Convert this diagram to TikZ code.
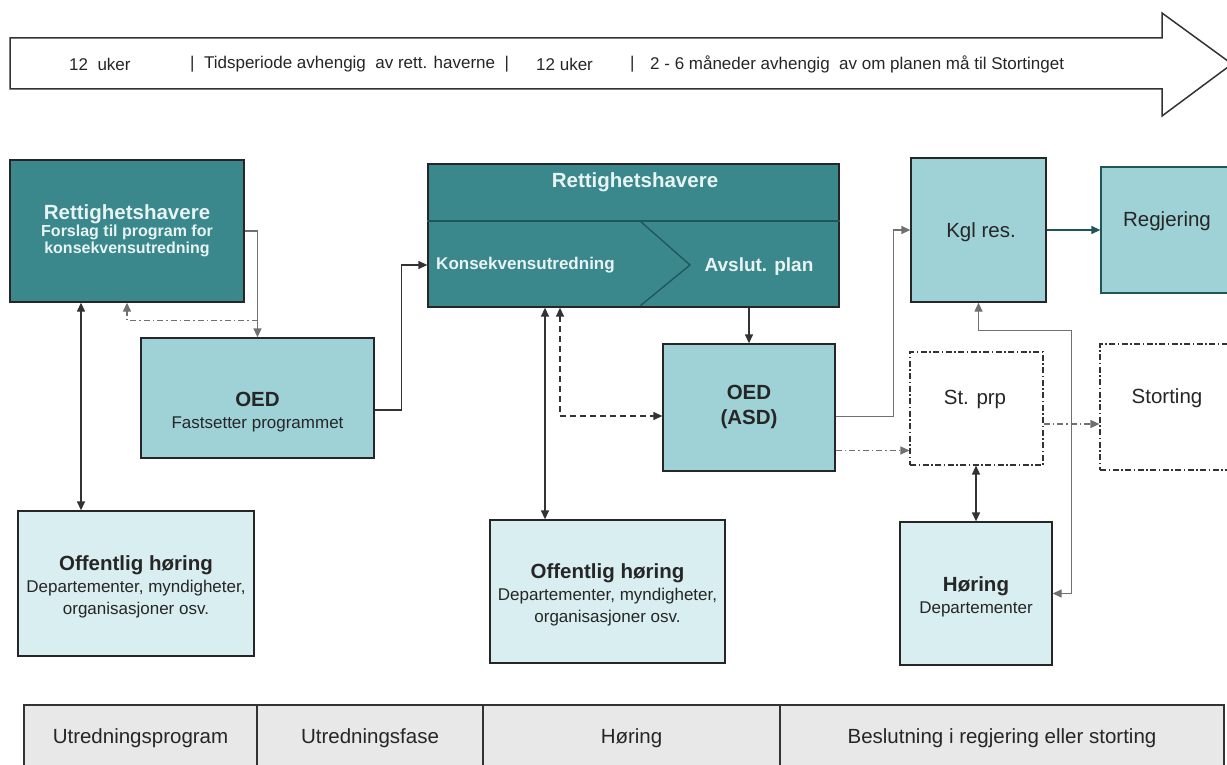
\documentclass[tikz,border=0pt]{standalone}
\usepackage{fontspec}
\setmainfont{Liberation Sans}
\usetikzlibrary{arrows.meta,calc}
\definecolor{dteal}{HTML}{3A878C}
\definecolor{dtealline}{HTML}{1F5659}
\definecolor{mteal}{HTML}{9ED2D6}
\definecolor{lteal}{HTML}{D9EEF0}
\definecolor{tgray}{HTML}{E8E8E8}
\definecolor{lnc}{HTML}{333333}
\definecolor{lgc}{HTML}{707070}
\definecolor{dtext}{HTML}{E8F4F4}
\definecolor{btxt}{HTML}{262626}
\newcommand\ttl{\fontsize{20.5}{23}\selectfont\bfseries}
\newcommand\sbt{\fontsize{17}{22}\selectfont}
\begin{document}
\begin{tikzpicture}[x=1pt,y=-1pt,
 box/.style={rectangle, draw=black!85, line width=1.3pt, inner sep=0pt},
 dbox/.style={box, fill=dteal},
 mbox/.style={box, fill=mteal},
 lbox/.style={box, fill=lteal},
 ddbox/.style={rectangle, inner sep=0pt, draw=black!80, line width=1.1pt, dash pattern=on 6pt off 2.5pt on 1.5pt off 2.5pt, fill=white},
 cell/.style={rectangle, draw=black!80, line width=1.3pt, fill=tgray, inner sep=0pt, text=btxt, font=\fontsize{20.5}{23}\selectfont},
 txt/.style={inner sep=0pt, align=center, text=btxt, font=\sbt},
 wtxt/.style={inner sep=0pt, align=center, text=dtext},
 atxt/.style={inner sep=0pt, anchor=west, text=btxt, font=\fontsize{17}{20}\selectfont},
 arr/.style={-{Triangle[length=9pt,width=8pt]}},
 arrs/.style={{Triangle[length=9pt,width=8pt]}-{Triangle[length=9pt,width=8pt]}},
 conn/.style={draw=lnc, line width=1.3pt},
 dashdot/.style={dash pattern=on 6pt off 3pt on 1.5pt off 3pt},
 longdash/.style={dash pattern=on 6pt off 4pt},
]
\useasboundingbox (0,0) rectangle (1227,765);

% timeline arrow
\draw[draw=black!80, line width=1.5pt, fill=white, line join=miter]
  (10,38) -- (1162,38) -- (1162,13) -- (1232,64) -- (1162,116) -- (1162,89) -- (10,89) -- cycle;
\node[atxt] (a1) at (69,64) {12\ \ uker};
\node[atxt] (a2) at (190,64) {|\ \ Tidsperiode avhengig\ \ av rett. haverne\ \ |};
\node[atxt] (a3) at (536,64) {12 uker};
\node[atxt] (a4) at (630,64) {|};
\node[atxt] (a5) at (650,64) {2 - 6 måneder avhengig\ \ av om planen må til Stortinget};

% boxes
\node[dbox, minimum width=234pt, minimum height=142pt] (r1) at (127,231) {};
\node[wtxt, font=\fontsize{16}{17}\selectfont] (r1t) at (127,231) {{\ttl Rettighetshavere}\\
  {\bfseries Forslag til program for}\\
  {\bfseries konsekvensutredning}};

\node[mbox, minimum width=233pt, minimum height=120pt] (oed1) at (257.5,398) {};
\node[txt] (oed1t) at (257.5,412) {{\ttl OED}\\{Fastsetter programmet}};

\node[lbox, minimum width=236pt, minimum height=145pt] (off1) at (136,583.5) {};
\node[txt] (off1t) at (136,587) {{\ttl Offentlig høring}\\Departementer, myndigheter,\\organisasjoner osv.};

\node[dbox, minimum width=411pt, minimum height=143pt] (r2) at (633.5,235.5) {};
\draw[draw=dtealline, line width=1.6pt] (r2.west |- 0,221) -- (r2.east |- 0,221);
\draw[draw=dtealline, line width=1.3pt] (640,221) -- (690,265) -- (640,306);
\node[wtxt] (r2t) at (635,182) {\ttl Rettighetshavere};
\node[wtxt] (r2k) at (525.5,265) {\fontsize{17}{20}\selectfont\bfseries Konsekvensutredning};
\node[wtxt] (r2a) at (759,267) {\fontsize{19}{22}\selectfont\bfseries Avslut. plan};

\node[mbox, minimum width=172pt, minimum height=127pt] (oed2) at (749,407.5) {};
\node[txt] (oed2t) at (749,406.5) {{\ttl OED}\\[3pt]{\ttl (ASD)}};

\node[lbox, minimum width=235pt, minimum height=143pt] (off2) at (607.5,591.5) {};
\node[txt] (off2t) at (607.5,595) {{\ttl Offentlig høring}\\Departementer, myndigheter,\\organisasjoner osv.};

\node[mbox, minimum width=135pt, minimum height=144pt] (kgl) at (978.5,230) {};
\node[txt, font=\fontsize{20.5}{23}\selectfont] (kglt) at (981,232) {Kgl res.};

\node[box, draw=dtealline, fill=mteal, minimum width=131pt, minimum height=126pt] (reg) at (1166.5,230) {};
\node[txt, font=\fontsize{20.5}{23}\selectfont] (regt) at (1167,221) {Regjering};

\node[ddbox, minimum width=133pt, minimum height=113pt] (stprp) at (976.5,408.5) {};
\node[txt, font=\fontsize{20.5}{23}\selectfont] (stprpt) at (975,399) {St. prp};

\node[ddbox, minimum width=132pt, minimum height=126pt] (sting) at (1166,407) {};
\node[txt, font=\fontsize{20.5}{23}\selectfont] (stingt) at (1167,398) {Storting};

\node[lbox, minimum width=152pt, minimum height=143pt] (hor) at (976,593.5) {};
\node[txt] (hort) at (976,596.5) {{\ttl Høring}\\Departementer};

% bottom table
\node[cell, minimum width=233pt, minimum height=66pt] (c1) at (140.5,738) {Utredningsprogram};
\node[cell, minimum width=226pt, minimum height=66pt] (c2) at (370,738) {Utredningsfase};
\node[cell, minimum width=297pt, minimum height=66pt] (c3) at (631.5,738) {Høring};
\node[cell, minimum width=444pt, minimum height=66pt] (c4) at (1002,738) {Beslutning i regjering eller storting};

% connectors
\draw[conn, draw=lgc, arr] (r1.east) -| (oed1.north);
\draw[conn, draw=lgc, dashdot, arr] ($(oed1.north)+(0,-17)$) -| (r1.south);
\draw[conn, arrs] (r1.south -| 81,0) -- (off1.north -| 81,0);
\draw[conn, arr] ($(oed1.east)+(0,12)$) -| ($(r2.west)+(-26,29.5)$) -- ($(r2.west)+(0,29.5)$);

\draw[conn, arrs] (r2.south -| 545,0) -- (off2.north -| 545,0);
\draw[conn, longdash, arrs] (r2.south -| 560,0) |- (oed2.west |- 0,416);
\draw[conn, arr] (r2.south -| oed2.north) -- (oed2.north);

\draw[conn, draw=lgc, arr] ($(oed2.east)+(0,9)$) -| ($(kgl.west)+(-17,0)$) -- (kgl.west);
\draw[conn, draw=lgc, dashdot, arr] ($(oed2.east)+(0,43)$) coordinate (p1) -- (p1 -| stprp.west);
\draw[conn, draw=dtealline, arr] (kgl.east) -- (reg.west);
\draw[conn, draw=lgc, dashdot, arr] ($(stprp.east)+(0,15.5)$) coordinate (p2) -- (p2 -| sting.west);
\draw[conn, arrs] (stprp.south -| hor.north) -- (hor.north);
\draw[conn, draw=lgc, arrs] (kgl.south) -- ++(0,28) -| ($(hor.east)+(19,0)$) -- (hor.east);
\end{tikzpicture}
\end{document}
